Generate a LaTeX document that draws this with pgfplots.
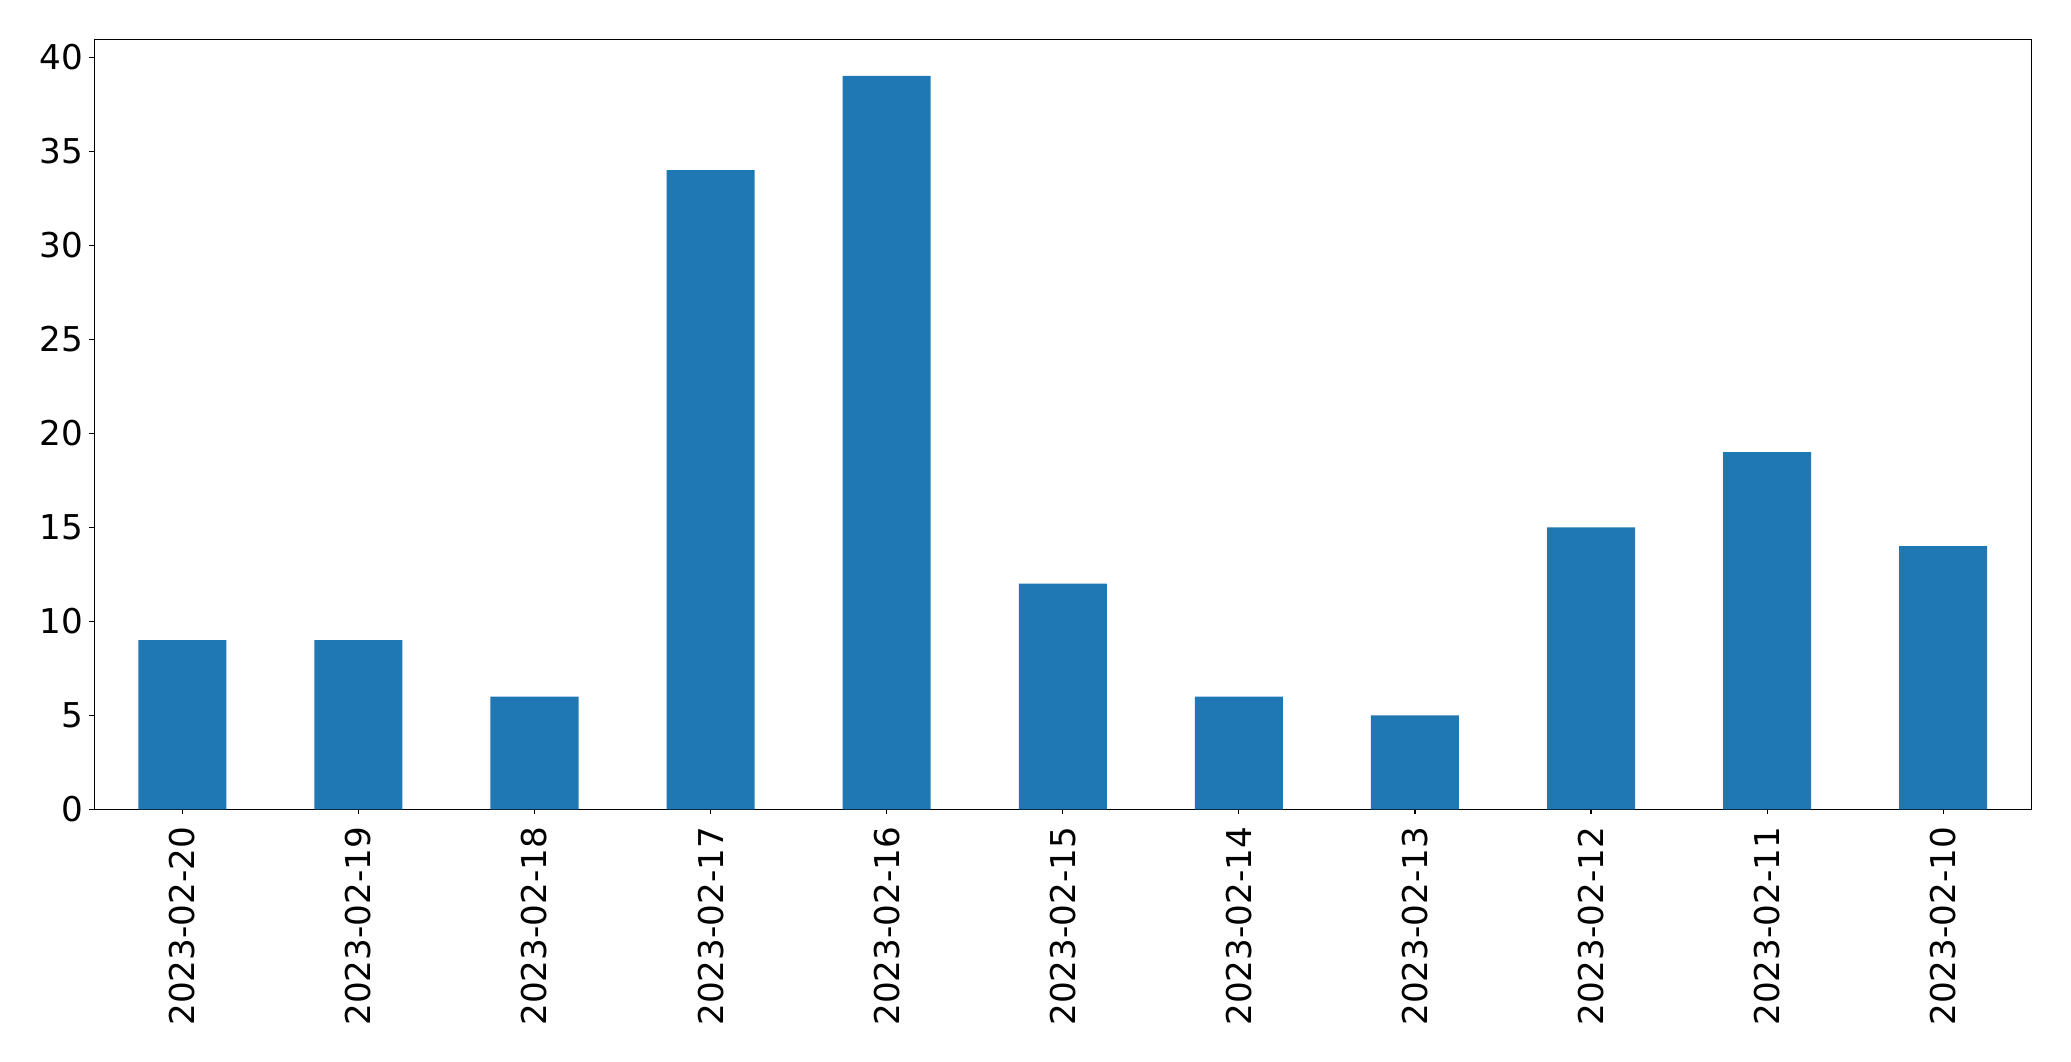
\documentclass[border=0pt]{standalone}
\usepackage{pgfplots}
\pgfplotsset{compat=1.18}
\usepackage{fontspec}
\setmainfont{DejaVu Sans}
\definecolor{mplblue}{HTML}{1F77B4}
\begin{document}
\begin{tikzpicture}
\useasboundingbox (0,0) rectangle (1491.12pt,763.92pt);
\begin{axis}[
  at={(67.9pt,181.2pt)}, anchor=south west,
  scale only axis, width=1394.6pt, height=554.4pt,
  xmin=-0.5, xmax=10.5, ymin=0, ymax=40.95,
  ytick={0,5,10,15,20,25,30,35,40},
  xtick={0,1,2,3,4,5,6,7,8,9,10},
  xticklabels={2023-02-20,2023-02-19,2023-02-18,2023-02-17,2023-02-16,2023-02-15,2023-02-14,2023-02-13,2023-02-12,2023-02-11,2023-02-10},
  tick pos=left, tick align=outside,
  major tick length=3.5pt,
  every tick/.style={black, line width=0.8pt},
  axis line style={line width=0.8pt},
  /pgf/number format/assume math mode=true,
  tick label style={font=\fontsize{24.6}{28}\selectfont, inner sep=0pt},
  yticklabel shift=4.5pt,
  xticklabel shift=9pt,
  xticklabel style={rotate=90, anchor=east},
  ybar, bar width=0.5,
]
\addplot[fill=mplblue, draw=none] coordinates {
(0,9) (1,9) (2,6) (3,34) (4,39) (5,12) (6,6) (7,5) (8,15) (9,19) (10,14)
};
\end{axis}
\end{tikzpicture}
\end{document}
